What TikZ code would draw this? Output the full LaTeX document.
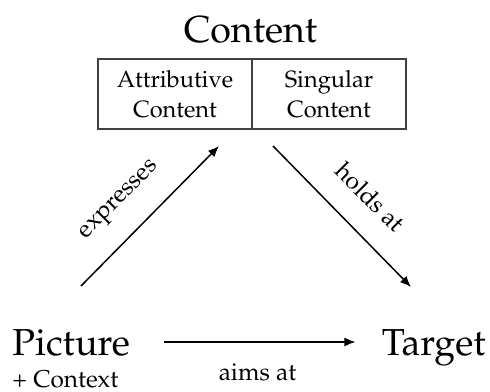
\documentclass[tikz,border=0pt]{standalone}
\usepackage[T1]{fontenc}
\usepackage{mathpazo}
\usetikzlibrary{arrows.meta,positioning}
\tikzset{
  big/.style={font=\fontsize{18.8}{22}\selectfont},
  lbl/.style={font=\fontsize{12.2}{15}\selectfont},
  cell/.style={draw=black!75,line width=0.65pt,minimum width=77pt,minimum height=35pt,
    align=center,inner sep=0pt,outer sep=0pt,font=\fontsize{11.8}{15}\selectfont},
  rel/.style={-{Latex[length=5.5pt,width=4.5pt]},line width=0.75pt},
}
\begin{document}
\begin{tikzpicture}[x=0.5pt,y=0.5pt]
		\useasboundingbox (0,0) rectangle (490,391);
		% content box
		\node[big,anchor=base] (content) at (250.5,348) {Content};
		\node[cell] (attr) at (175,297) {Attributive\\Content};
		\node[cell,right=0pt of attr] (sing) {Singular\\Content};
		% bottom row
		\node[big,anchor=base west,inner sep=0pt] (picture) at (12,36) {Picture};
		\node[lbl,anchor=base west,inner sep=0pt] (context) at (12,4) {+ Context};
		\node[big,anchor=base east,inner sep=0pt] (target) at (486,36) {Target};
		% relations
		\draw[rel] ([shift={(69,69)}]picture.base west) -- ([shift={(-33,-17)}]attr.south east);
		\draw[rel] ([shift={(21,-17)}]attr.south east) -- ([shift={(-75,68)}]target.base east);
		\draw[rel,shorten <=17pt,shorten >=13pt] ([yshift=6.5pt]picture.base east) -- ([yshift=6.5pt]target.base west);
		\node[lbl,rotate=45] (expr) at (120,190) {expresses};
		\node[lbl,rotate=-45] (holds) at (370,194) {holds at};
		\node[lbl,anchor=base] (aims) at (257.5,11) {aims at};
\end{tikzpicture}
\end{document}
